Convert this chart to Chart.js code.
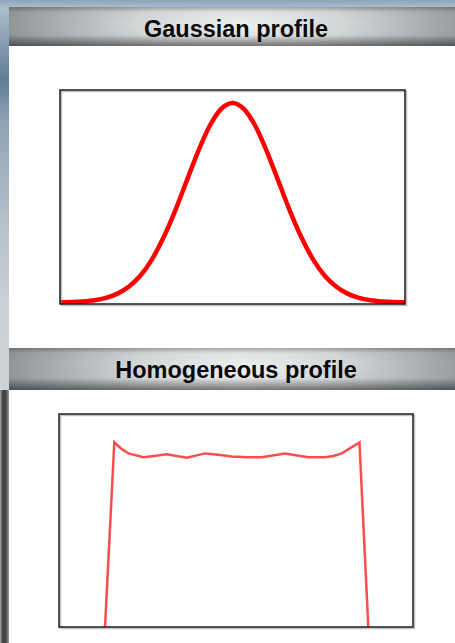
<!DOCTYPE html>
<html>
<head>
<meta charset="utf-8">
<script src="https://cdn.jsdelivr.net/npm/chart.js@4.4.1/dist/chart.umd.min.js"></script>
<style>
    html, body {
        margin: 0;
        padding: 0;
        width: 455px;
        height: 643px;
        overflow: hidden;
    }
    body {
        position: relative;
        font-family: "Liberation Sans", Arial, sans-serif;
        background:
            linear-gradient(180deg, #8ea3b9 0px, #a9bccd 7px, rgba(0,0,0,0) 7px),
            linear-gradient(180deg, #b7c4cf 0px, #5f7c99 80px, #8ea2b4 120px, #b4c0ca 220px, #c9cfd4 300px, #cfd3d6 390px, #6a6a6a 400px, #555 643px);
    }
    .leftStrip {
        position: absolute;
        left: 0;
        top: 390px;
        width: 9px;
        height: 253px;
        background: linear-gradient(90deg, #a5a5a5 0px, #3c3c3c 3px, #4a4a4a 6px, #9a9a9a 9px);
    }
    .header {
        position: absolute;
        left: 9px;
        width: 438px;
        padding-left: 8px;
        text-align: center;
        font-weight: bold;
        font-size: 23.5px;
        color: #0a0a0a;
        background:
            linear-gradient(180deg, rgba(40,40,40,0.3) 0px, rgba(0,0,0,0) 5px, rgba(0,0,0,0) 72%, rgba(20,20,20,0.5) 100%),
            radial-gradient(ellipse 60% 150% at 52% 45%, #eef0f0 0%, #d2d5d6 40%, #9a9fa2 80%, #7c8184 100%);
    }
    #head1 { top: 7px; height: 39px; line-height: 44px; }
    #head2 { top: 348px; height: 42px; line-height: 45px; }
    .panel {
        position: absolute;
        left: 9px;
        width: 446px;
        background: #ffffff;
    }
    #panel1 { top: 46px; height: 302px; }
    #panel2 { top: 390px; height: 253px; }
</style>
</head>
<body>
<div class="leftStrip"></div>
<div class="header" id="head1">Gaussian profile</div>
<div class="panel" id="panel1"><canvas id="gaussChart" width="446" height="302"></canvas></div>
<div class="header" id="head2">Homogeneous profile</div>
<div class="panel" id="panel2"><canvas id="flatChart" width="446" height="253"></canvas></div>

<script>
// Gaussian beam profile (position, relative intensity)
const gaussX = [-3.75, -3.5, -3.25, -3, -2.75, -2.5, -2.25, -2, -1.75, -1.5, -1.25, -1, -0.75, -0.5, -0.25, 0,
    0.25, 0.5, 0.75, 1, 1.25, 1.5, 1.75, 2, 2.25, 2.5, 2.75, 3, 3.25, 3.5, 3.75];
const gaussY = [0.001, 0.002, 0.005, 0.011, 0.023, 0.044, 0.080, 0.135, 0.216, 0.325, 0.458, 0.607, 0.755, 0.883, 0.969, 1.0,
    0.969, 0.883, 0.755, 0.607, 0.458, 0.325, 0.216, 0.135, 0.080, 0.044, 0.023, 0.011, 0.005, 0.002, 0.001];

// Homogeneous (top-hat) profile
const flatX = [-2.96, -2.75, -2.60, -2.43, -2.09, -1.85, -1.57, -1.11, -0.70, -0.40, -0.10, 0.25, 0.58, 1.11, 1.63, 2.01, 2.20, 2.39, 2.79, 2.99];
const flatY = [0, 0.867, 0.838, 0.815, 0.797, 0.803, 0.811, 0.795, 0.815, 0.809, 0.800, 0.797, 0.797, 0.815, 0.797, 0.797, 0.803, 0.815, 0.867, 0];

/**
 * Draw the black frame with a light shadow around the plot area
 */
const framePlugin = {
    id: 'frame',
    afterDraw(chart) {
        const a = chart.chartArea;
        const ctx = chart.ctx;
        ctx.save();
        ctx.strokeStyle = 'rgba(150,150,150,0.6)';
        ctx.lineWidth = 1.5;
        ctx.strokeRect(a.left + 1.5, a.top + 1.5, a.right - a.left, a.bottom - a.top);
        ctx.strokeStyle = '#1a1a1a';
        ctx.lineWidth = 1.5;
        ctx.strokeRect(a.left, a.top, a.right - a.left, a.bottom - a.top);
        ctx.restore();
    }
};

function toPoints(xs, ys) {
    return xs.map((x, i) => ({ x: x, y: ys[i] }));
}

function makeChart(id, points, opts) {
    return new Chart(document.getElementById(id), {
        type: 'line',
        data: {
            datasets: [{
                data: points,
                borderColor: opts.color,
                borderWidth: opts.width,
                pointRadius: 0,
                fill: false,
                tension: opts.tension,
                cubicInterpolationMode: opts.mode
            }]
        },
        options: {
            responsive: false,
            animation: false,
            layout: { padding: opts.padding },
            plugins: {
                legend: { display: false },
                tooltip: { enabled: false }
            },
            scales: {
                x: { type: 'linear', display: false, min: opts.xMin, max: opts.xMax },
                y: { type: 'linear', display: false, min: opts.yMin, max: opts.yMax }
            }
        },
        plugins: [framePlugin]
    });
}

makeChart('gaussChart', toPoints(gaussX, gaussY), {
    color: '#ff0000',
    width: 4.5,
    tension: 0.4,
    mode: 'monotone',
    padding: { left: 51, right: 50, top: 44, bottom: 44 },
    xMin: -3.75, xMax: 3.75,
    yMin: -0.008, yMax: 1.065
});

makeChart('flatChart', toPoints(flatX, flatY), {
    color: 'rgba(255,45,45,0.85)',
    width: 2.5,
    tension: 0,
    mode: 'default',
    padding: { left: 50, right: 42, top: 24, bottom: 16 },
    xMin: -4, xMax: 4,
    yMin: 0, yMax: 1
});
</script>
</body>
</html>
